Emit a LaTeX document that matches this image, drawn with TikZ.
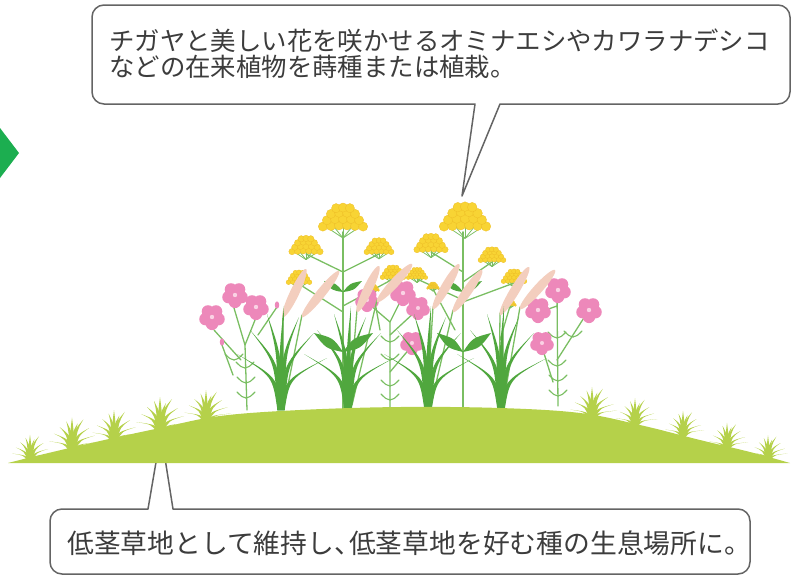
\documentclass[tikz,border=0pt]{standalone}
\usepackage{fontspec}
\usetikzlibrary{calc}
\newfontfamily\jpfont{Noto Sans CJK JP}

\definecolor{mound}{RGB}{181,209,74}
\definecolor{leafgreen}{RGB}{80,167,62}
\definecolor{stemgreen}{RGB}{122,190,98}
\definecolor{flowerpink}{RGB}{237,136,186}
\definecolor{pinkheart}{RGB}{250,210,228}
\definecolor{umbelyellow}{RGB}{248,212,52}
\definecolor{umbeledge}{RGB}{238,190,38}
\definecolor{plumepink}{RGB}{243,206,190}
\definecolor{arrowgreen}{RGB}{28,174,80}
\definecolor{boxline}{RGB}{100,100,100}
\definecolor{textgray}{RGB}{60,60,60}

% tapered blade: base (#1,#2), bend control (#3,#4), tip (#5,#6), half width #7
\newcommand\gblade[7]{%
  \fill ({#1-#7},{#2}) .. controls ({#3-0.5*#7},{#4}) .. ({#5},{#6})
        .. controls ({#3+0.5*#7},{#4}) .. ({#1+#7},{#2}) -- cycle;}

% fan of long grass leaves rooted at (#1,#2)
\newcommand\grassfan[2]{%
  \begin{scope}[shift={(#1,#2)},fill=leafgreen]
    \foreach \tx/\ty in {-44/-56,-31/-80,-14/-96,3/-104,18/-93,33/-77,46/-52}
      \gblade{0}{0}{\tx*0.15}{\ty*0.6}{\tx}{\ty}{3.6};
  \end{scope}}

% low tuft on the mound, base (#1,#2), scale #3
\newcommand\tuft[3]{%
  \begin{scope}[shift={(#1,#2)},scale=#3,fill=mound]
    \foreach \tx/\ty in {-24/-6,-19/-14,-13/-21,-6/-27,0/-31,6/-25,12/-29,18/-20,24/-12,28/-5}
      \gblade{0}{4}{\tx*0.3}{\ty*0.6}{\tx}{\ty}{3.2};
  \end{scope}}

% yellow umbel, bottom centre (#1,#2), size #3
\newcommand\umbel[3]{%
  \begin{scope}[shift={(#1,#2)},scale={#3/20}]
    \foreach \px in {-15,-8,0,8,15}
      \draw[stemgreen,line width=0.8pt] (0,7) -- (\px,-3);
    \foreach \dx/\dy in {-17.5/-3,-10.5/-3.5,-3.5/-4,3.5/-4,10.5/-3.5,17.5/-3,
                         -14/-8.5,-7/-9.5,0/-9.5,7/-9.5,14/-8.5,
                         -10.5/-14,-3.5/-15,3.5/-15,10.5/-14,-6/-19,0/-19.5,6/-19}
      \fill[umbelyellow,draw=umbeledge,line width=0.3pt] (\dx,\dy) circle (4);
  \end{scope}}

% five-petalled pink flower at (#1,#2), radius #3
\newcommand\pinkflower[3]{%
  \begin{scope}[shift={(#1,#2)},scale={#3/13}]
    \foreach \a in {18,90,162,234,306}
      \fill[flowerpink] (\a:6.8) circle (6.3);
    \fill[pinkheart] (0,0) circle (2.2);
  \end{scope}}

% pair of small leaves on a thin stem
\newcommand\leafpair[2]{%
  \draw[stemgreen,line width=1.1pt,line cap=round] (#1,#2) .. controls ({#1-4},{#2-1}) .. ({#1-9},{#2-6});
  \draw[stemgreen,line width=1.1pt,line cap=round] (#1,#2) .. controls ({#1+4},{#2-1}) .. ({#1+9},{#2-6});}

% lance leaf from (#1) to (#2)
\newcommand\lanceleaf[2]{%
  \fill[leafgreen] (#1) .. controls ($(#1)!0.5!22:(#2)$) .. (#2)
                        .. controls ($(#1)!0.5!-22:(#2)$) .. (#1) -- cycle;}

% plume spike from bottom (#1,#2) to top (#3,#4)
\newcommand\plume[4]{%
  \pgfmathsetmacro\plumelen{veclen(#3-#1,#4-#2)/2}%
  \pgfmathsetmacro\plumeang{-atan2(#4-#2,#3-#1)}%
  \fill[plumepink,rotate around={\plumeang:($(#1,#2)!0.5!(#3,#4)$)}]
    ($(#1,#2)!0.5!(#3,#4)$) ellipse ({\plumelen} and 4.6);}

\begin{document}
\begin{tikzpicture}[x=1pt,y=-1pt,
  callout/.style={draw=boxline,line width=1.5pt,fill=white,line join=round},
  calltext/.style={font=\jpfont\fontsize{25.4pt}{26pt}\selectfont,text=textgray,inner sep=0pt,anchor=base west},
  stemline/.style={draw=stemgreen,line width=1.9pt,line cap=round},
  thinstem/.style={draw=stemgreen,line width=1.3pt,line cap=round}]
\useasboundingbox (0,0) rectangle (795,576);

% arrow tip entering from the left
\fill[arrowgreen] (0,128) -- (19,153) -- (0,178) -- cycle;

% callouts
\draw[callout] (475,104) [rounded corners=12] -- (92,104) -- (92,5) -- (790,5) -- (790,104)
  [sharp corners] -- (500,104) -- (462,196) -- cycle;
\node[calltext] (topline1) at (109,50) {チガヤと美しい花を咲かせるオミナエシやカワラナデシコ};
\node[calltext] (topline2) at (109,76) {などの在来植物を蒔種または植栽。};

\draw[callout] (173,509) [rounded corners=12] -- (750,509) -- (750,574) -- (50,574) -- (50,509)
  [sharp corners] -- (148,509) -- (161,433) -- cycle;
\node[calltext,font=\jpfont\fontsize{26.8pt}{27pt}\selectfont] (bottomline) at (67,553)
  {低茎草地として維持し、\kern-0.45em 低茎草地を好む種の生息場所に。};

% ---- yellow umbel plants ----
\draw[stemline] (343,410) -- (343,232);
\draw[thinstem] (343,272) -- (306,254);
\draw[thinstem] (343,272) -- (379,254);
\draw[thinstem] (343,312) -- (299,284);
\draw[thinstem] (343,306) -- (393,279);
\draw[thinstem] (380,330) -- (373,291);
\lanceleaf{343,292}{324,281}
\lanceleaf{343,292}{362,281}

\draw[stemline] (463,410) -- (463,232);
\draw[thinstem] (463,272) -- (431,252);
\draw[thinstem] (463,282) -- (492,262);
\draw[thinstem] (463,302) -- (514,283);
\draw[thinstem] (463,300) -- (417,279);
\draw[thinstem] (455,330) -- (433,289);
\draw[thinstem] (500,340) -- (510,306);
\lanceleaf{463,292}{444,281}
\lanceleaf{463,292}{482,281}

\umbel{343}{230}{23}
\umbel{306}{254}{16}
\umbel{379}{254}{14}
\umbel{299}{284}{12}
\umbel{393}{279}{12}
\umbel{373}{291}{6}
\umbel{465}{230}{24}
\umbel{431}{252}{16}
\umbel{492}{262}{13}
\umbel{514}{283}{12}
\umbel{417}{279}{10}
\umbel{433}{289}{6}
\umbel{510}{306}{6}

% ---- pink flowering plants ----
\draw[thinstem] (247,410) -- (245,345) -- (234,308);
\draw[thinstem] (245,345) -- (255,320);
\draw[thinstem] (241,360) -- (214,330);
\draw[thinstem] (233,375) -- (222,345);
\draw[thinstem] (258,335) -- (277,307);
\leafpair{246}{398}\leafpair{246}{383}\leafpair{245}{368}\leafpair{234}{360}
\fill[flowerpink] (222,342) ellipse (2.2 and 3.6);
\fill[flowerpink] (277,305) ellipse (2.2 and 3.6);
\pinkflower{212}{317}{13}
\pinkflower{235}{295}{13}
\pinkflower{256}{307}{13}

\draw[thinstem] (390,410) -- (390,322) -- (369,304);
\draw[thinstem] (390,322) -- (402,298);
\draw[thinstem] (390,335) -- (416,311);
\draw[thinstem] (390,372) -- (411,347);
\leafpair{390}{400}\leafpair{390}{386}\leafpair{390}{360}\leafpair{390}{342}
\pinkflower{367}{300}{12}
\pinkflower{403}{293}{13}
\pinkflower{418}{308}{12}
\pinkflower{412}{343}{12}

\draw[thinstem] (558,406) -- (557,292);
\draw[thinstem] (557,306) -- (540,312);
\draw[thinstem] (557,360) -- (587,313);
\draw[thinstem] (553,382) -- (542,347);
\leafpair{558}{396}\leafpair{558}{381}\leafpair{557}{366}\leafpair{557}{338}\leafpair{573}{337}
\pinkflower{558}{290}{13}
\pinkflower{538}{310}{13}
\pinkflower{589}{310}{13}
\pinkflower{542}{343}{12}

% ---- cogon grass: flower spikes and leaf fans ----
\draw[thinstem] (283,315) -- (280,405);
\draw[thinstem] (302,315) -- (284,405);
\draw[thinstem] (357,310) -- (349,405);
\draw[thinstem] (377,300) -- (352,405);
\draw[thinstem] (433,307) -- (427,405);
\draw[thinstem] (453,310) -- (431,405);
\draw[thinstem] (500,313) -- (499,405);
\draw[thinstem] (520,307) -- (503,405);
\plume{283}{317}{306}{269}
\plume{302}{317}{339}{271}
\plume{357}{312}{379}{266}
\plume{377}{302}{412}{264}
\plume{433}{309}{459}{264}
\plume{453}{312}{482}{270}
\plume{500}{315}{529}{267}
\plume{520}{309}{555}{270}

\grassfan{281}{410}
\grassfan{348}{410}
\grassfan{428}{410}
\grassfan{501}{410}
\lanceleaf{343,352}{314,333}
\lanceleaf{343,352}{373,333}
\lanceleaf{463,352}{437,333}
\lanceleaf{463,352}{491,333}

% ---- ground ----
\fill[mound] plot[smooth,tension=0.6] coordinates {(8,463) (40,455) (100,441) (160,428) (220,416)
  (300,410) (400,407) (500,408) (580,413) (640,425) (700,440) (750,452) (790,463)} -- cycle;
\tuft{30}{458}{0.75}
\tuft{72}{447}{0.95}
\tuft{114}{438}{0.9}
\tuft{160}{428}{1.0}
\tuft{206}{418}{0.9}
\tuft{592}{415}{0.9}
\tuft{635}{423}{0.8}
\tuft{683}{434}{0.75}
\tuft{727}{446}{0.75}
\tuft{768}{457}{0.7}
\end{tikzpicture}
\end{document}
